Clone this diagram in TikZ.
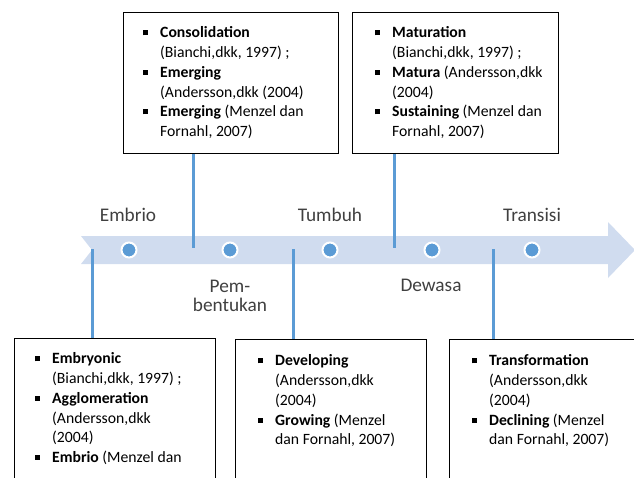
\documentclass[tikz,border=0pt]{standalone}
\usepackage{fontspec}
\setmainfont{Carlito}
\definecolor{lineblue}{HTML}{5B9BD5}
\definecolor{bandblue}{HTML}{D0DCEF}
\definecolor{labelgray}{HTML}{404040}
\newcommand{\bulsq}{\makebox[17pt][l]{\rule[2.5pt]{5pt}{5pt}}}
\newcommand{\contind}{\hspace*{17pt}}
\begin{document}
\begin{tikzpicture}[x=1pt,y=-1pt,
  box/.style={draw=black,line width=1.2pt,anchor=north west,inner sep=0pt},
  txt/.style={anchor=north west,inner sep=0pt,align=left,font=\fontsize{15.7}{19.7}\selectfont},
  lbl/.style={inner sep=0pt,align=center,text=labelgray,font=\fontsize{19.3}{19}\selectfont},
  dot/.style={circle,fill=lineblue,draw=white,line width=2pt,minimum size=15pt,inner sep=0pt},
  vline/.style={draw=lineblue,line width=3pt}]
\useasboundingbox (0,0) rectangle (634,477);
\clip (0,0) rectangle (634,477);
% band arrow
\fill[bandblue] (81,236) -- (608,236) -- (608,222) -- (635,250) -- (608,278) -- (608,264) -- (81,264) -- (92,250) -- cycle;
% boxes
\node[box,minimum width=215pt,minimum height=141pt] (b1) at (123,12) {};
\node[box,minimum width=206pt,minimum height=141pt] (b2) at (352,12) {};
\node[box,minimum width=201pt,minimum height=160pt] (b3) at (14,338) {};
\node[box,minimum width=191pt,minimum height=160pt] (b4) at (235,339) {};
\node[box,minimum width=210pt,minimum height=160pt] (b5) at (449,339) {};
% texts
\node[txt] (t1) at (143,24) {\strut\bulsq\textbf{Consolidation}\\
  \strut\contind(Bianchi,dkk, 1997) ;\\
  \strut\bulsq\textbf{Emerging}\\
  \strut\contind(Andersson,dkk (2004)\\
  \strut\bulsq\textbf{Emerging} (Menzel dan\\
  \strut\contind Fornahl, 2007)};
\node[txt] (t2) at (375,24) {\strut\bulsq\textbf{Maturation}\\
  \strut\contind(Bianchi,dkk, 1997) ;\\
  \strut\bulsq\textbf{Matura} (Andersson,dkk\\
  \strut\contind(2004)\\
  \strut\bulsq\textbf{Sustaining} (Menzel dan\\
  \strut\contind Fornahl, 2007)};
\node[txt] (t3) at (35,350) {\strut\bulsq\textbf{Embryonic}\\
  \strut\contind(Bianchi,dkk, 1997) ;\\
  \strut\bulsq\textbf{Agglomeration}\\
  \strut\contind(Andersson,dkk\\
  \strut\contind(2004)\\
  \strut\bulsq\textbf{Embrio} (Menzel dan};
\node[txt] (t4) at (258,352) {\strut\bulsq\textbf{Developing}\\
  \strut\contind(Andersson,dkk\\
  \strut\contind(2004)\\
  \strut\bulsq\textbf{Growing} (Menzel\\
  \strut\contind dan Fornahl, 2007)};
\node[txt] (t5) at (472,352) {\strut\bulsq\textbf{Transformation}\\
  \strut\contind(Andersson,dkk\\
  \strut\contind(2004)\\
  \strut\bulsq\textbf{Declining} (Menzel\\
  \strut\contind dan Fornahl, 2007)};
% connectors
\coordinate (e1) at (193,248);
\coordinate (e2) at (394,248);
\coordinate (e3) at (92,249);
\coordinate (e4) at (293,249);
\coordinate (e5) at (493,249);
\draw[vline] (b1.south -| e1) -- (e1);
\draw[vline] (b2.south -| e2) -- (e2);
\draw[vline] (e3) -- (e3 |- b3.north);
\draw[vline] (e4) -- (e4 |- b4.north);
\draw[vline] (e5) -- (e5 |- b5.north);
% dots
\node[dot] (d1) at (129,250) {};
\node[dot] (d2) at (230,250) {};
\node[dot] (d3) at (330,250) {};
\node[dot] (d4) at (432,250) {};
\node[dot] (d5) at (532,250) {};
% labels
\node[lbl] (l1) at (128,215) {Embrio};
\node[lbl] (l2) at (330,215) {Tumbuh};
\node[lbl] (l3) at (532,215) {Transisi};
\node[lbl,font=\fontsize{19.3}{19.5}\selectfont] (l4) at (230,296) {Pem-\\bentukan};
\node[lbl] (l5) at (431,285) {Dewasa};
\end{tikzpicture}
\end{document}
